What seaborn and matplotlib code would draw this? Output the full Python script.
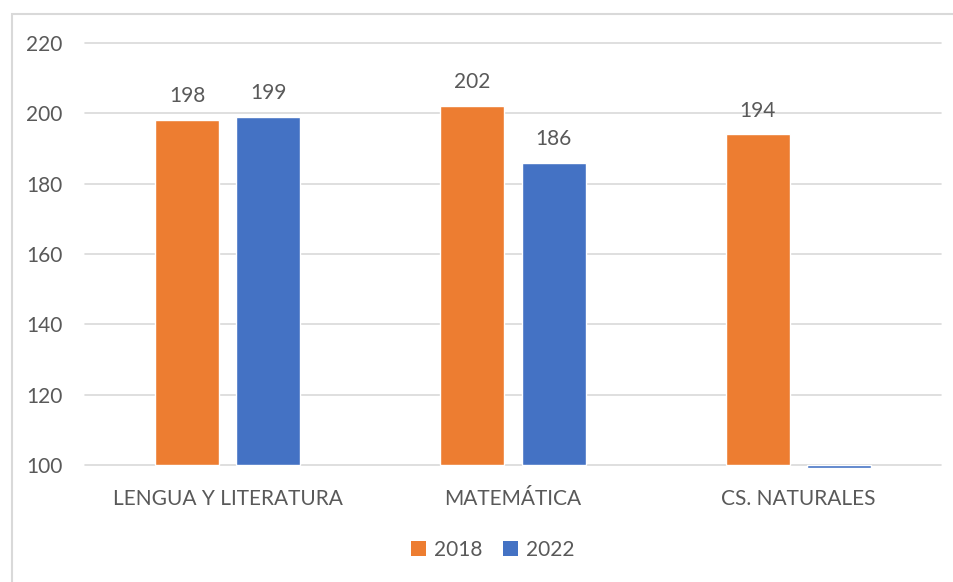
import numpy as np
import pandas as pd
import matplotlib
matplotlib.use("Agg")
import matplotlib.pyplot as plt
from matplotlib.patches import Rectangle, Patch
import seaborn as sns

# data
subjects = ["LENGUA Y LITERATURA", "MATEMÁTICA", "CS. NATURALES"]
years = ["2018", "2022"]
scores_2018 = [198, 202, 194]
scores_2022 = [199, 186, 0]  # no 2022 score shown for CS. NATURALES
y_ticks = [100, 120, 140, 160, 180, 200, 220]

colors = {"2018": "#ED7D31", "2022": "#4472C4"}
text_color = "#595959"
grid_color = "#D9D9D9"

sns.set_theme(style="white")
plt.rcParams["font.family"] = ["Lato", "DejaVu Sans"]

base = y_ticks[0]
floor = base - 0.9  # excel draws a value under the axis minimum as a thin line below it

df = pd.DataFrame({
    "subject": subjects * 2,
    "year": [years[0]] * 3 + [years[1]] * 3,
    "score": scores_2018 + scores_2022,
})
df["height"] = np.maximum(df["score"], floor) - base

fig = plt.figure(figsize=(9.54, 5.82), dpi=100)
ax = fig.add_axes([85 / 954, 1 - 465 / 582, 856 / 954, (465 - 43) / 582])

sns.barplot(data=df, x="subject", y="height", hue="year", order=subjects,
            hue_order=years, palette=colors, width=0.568, gap=0.21,
            saturation=1, legend=False, bottom=base, clip_on=False, ax=ax)

ax.set_ylim(base, 220)
ax.set_xlim(-0.5, 2.5)
ax.set_yticks(y_ticks)
ax.set_xlabel("")
ax.set_ylabel("")
for s in ax.spines.values():
    s.set_visible(False)
for t in y_ticks:
    ax.axhline(t, color=grid_color, lw=1.2, zorder=0, clip_on=False)
ax.tick_params(axis="y", length=0, pad=16, labelsize=15, labelcolor=text_color)
ax.tick_params(axis="x", length=0, pad=17, labelsize=15, labelcolor=text_color)

# value labels above the bars
for cont, yr in zip(ax.containers, years):
    vals = df[df["year"] == yr]["score"].tolist()
    labels = [str(v) if v >= base else "" for v in vals]
    ax.bar_label(cont, labels=labels, padding=10, fontsize=15, color=text_color)

handles = [Patch(facecolor=colors[y], edgecolor="none") for y in years]
fig.legend(handles, years, loc="center", bbox_to_anchor=(493 / 954, 1 - 550 / 582),
           ncol=2, frameon=False, fontsize=15, labelcolor=text_color,
           handlelength=0.7, handleheight=0.7, handletextpad=0.4, columnspacing=1.0)

# chart border
fig.patches.append(Rectangle((12 / 954, -0.1), 1.2, 1.1 - 14 / 582,
                             transform=fig.transFigure, fill=False,
                             edgecolor=grid_color, lw=1.5))

fig.savefig("out.png", dpi=100)
